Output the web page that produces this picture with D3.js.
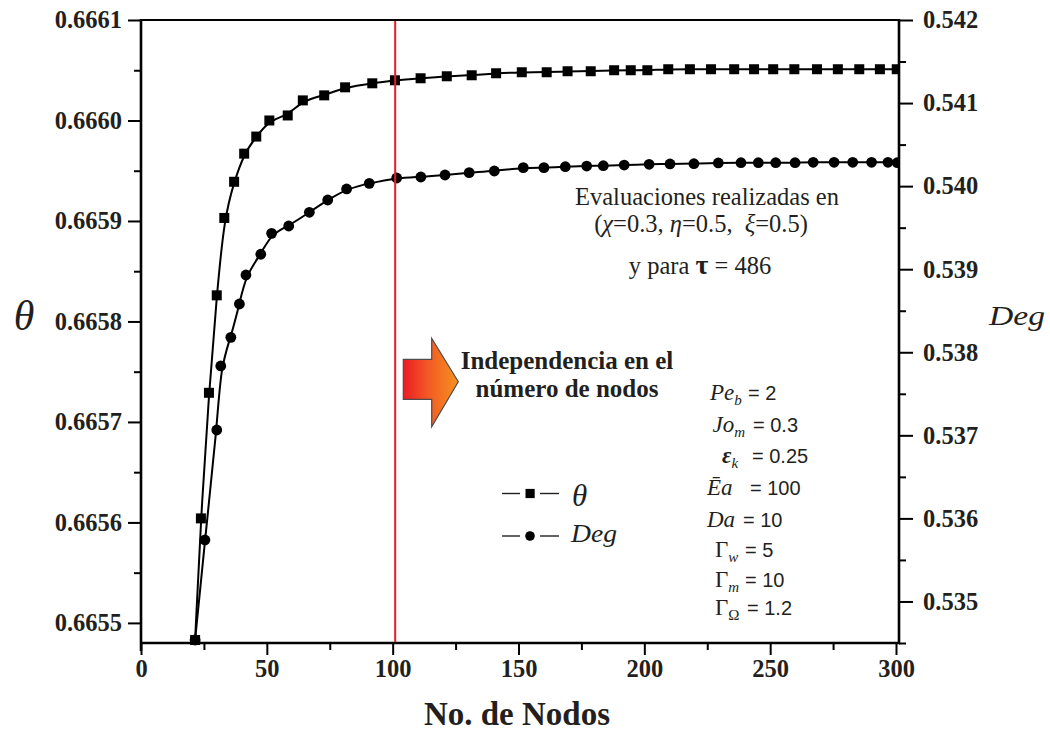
<!DOCTYPE html>
<html><head><meta charset="utf-8">
<script src="https://cdn.jsdelivr.net/npm/d3@7"></script>
<style>body{margin:0;background:#fff}</style>
</head><body><svg id="chart" width="1050" height="733"></svg>
<script>
// ---------------- data ----------------
const nodesTheta = [21.5, 23.8, 27.0, 30.1, 33.1, 37.0, 41.0, 45.8, 51.0, 58.3, 64.3, 72.8, 81.1, 91.9, 100.9, 111.1, 121.5, 131.4, 141.1, 151.3, 161.2, 169.5, 178.7, 188.0, 194.6, 201.2, 209.5, 218.1, 226.5, 235.7, 243.6, 251.2, 259.6, 268.6, 276.9, 285.4, 293.6, 300.3];
const thetaValues = [0.665483, 0.665604, 0.665729, 0.665826, 0.665903, 0.665939, 0.665967, 0.665984, 0.666000, 0.666005,
  0.666020, 0.666025, 0.666033, 0.666037, 0.666040, 0.666042, 0.666044, 0.666045, 0.666047, 0.666048,
  0.666048, 0.666049, 0.666049, 0.666050, 0.666050, 0.666050, 0.666051, 0.666051, 0.666051, 0.666051,
  0.666051, 0.666051, 0.666051, 0.666051, 0.666051, 0.666051, 0.666051, 0.666051];
const nodesDeg = [21.5, 25.4, 30.1, 31.7, 35.7, 39.1, 41.7, 47.6, 51.9, 58.7, 66.9, 74.2, 81.7, 90.7, 101.6, 111.2, 120.8, 130.4, 140.4, 151.9, 160.1, 168.6, 177.1, 183.7, 192.0, 201.9, 210.2, 219.7, 229.4, 238.4, 245.3, 252.2, 259.9, 267.1, 275.4, 282.8, 290.3, 296.8, 300.5];
const degValues = [0.534536, 0.535740, 0.537064, 0.537835, 0.538180, 0.538581, 0.538930, 0.539180, 0.539432, 0.539520,
  0.539685, 0.539833, 0.539966, 0.540034, 0.540098, 0.540110, 0.540134, 0.540162, 0.540182, 0.540222,
  0.540222, 0.540234, 0.540242, 0.540246, 0.540254, 0.540263, 0.540267, 0.540270, 0.540279, 0.540282,
  0.540282, 0.540282, 0.540282, 0.540287, 0.540287, 0.540287, 0.540287, 0.540287, 0.540282];
const xTicks = [0, 50, 100, 150, 200, 250, 300];
const xMinorTicks = [25, 75, 125, 175, 225, 275];
const thetaTicks = [0.6655, 0.6656, 0.6657, 0.6658, 0.6659, 0.6660, 0.6661];
const thetaMinorTicks = [0.66555, 0.66565, 0.66575, 0.66585, 0.66595, 0.66605];
const degTicks = [0.535, 0.536, 0.537, 0.538, 0.539, 0.540, 0.541, 0.542];
const degMinorTicks = [0.5345, 0.5355, 0.5365, 0.5375, 0.5385, 0.5395, 0.5405, 0.5415];
const redLineNodes = 101;
const xTitle = "No. de Nodos";
const seriesNames = ["θ", "Deg"];

// ---------------- layout ----------------
const L = 141, R = 899, T = 20, B = 643;
const serif = "'Liberation Serif','Times New Roman',serif";
const sans = "'Liberation Sans',Arial,sans-serif";
const ink = "#231f20";

const svg = d3.select("#chart");
const x = d3.scaleLinear().domain([0, 300]).range([L, 896]);
const yL = d3.scaleLinear().domain([0.66548, 0.6661]).range([B, T]);
const yR = d3.scaleLinear().domain([0.5345, 0.542]).range([B, T]);

const defs = svg.append("defs");
defs.append("clipPath").attr("id", "clip").append("rect")
  .attr("x", L).attr("y", 0).attr("width", R - L).attr("height", 733);
const grad = defs.append("linearGradient").attr("id", "arrowGrad")
  .attr("x1", "0%").attr("y1", "0%").attr("x2", "100%").attr("y2", "0%");
grad.append("stop").attr("offset", "0%").attr("stop-color", "#ec1c24");
grad.append("stop").attr("offset", "45%").attr("stop-color", "#f15a24");
grad.append("stop").attr("offset", "100%").attr("stop-color", "#f7931e");

function styleAxis(g, size) {
  g.select(".domain").remove();
  g.selectAll(".tick line").attr("stroke", "#000").attr("stroke-width", 2);
  g.selectAll(".tick text").attr("font-family", serif).attr("font-weight", "bold")
    .attr("font-size", size).attr("fill", ink);
}

// left axis
svg.append("g").attr("transform", `translate(${L},0)`)
  .call(d3.axisLeft(yL).tickValues(thetaTicks).tickSize(13).tickPadding(6).tickFormat(d3.format(".4f")))
  .call(g => styleAxis(g, 24.5));
svg.append("g").attr("transform", `translate(${L},0)`)
  .call(d3.axisLeft(yL).tickValues(thetaMinorTicks).tickSize(7).tickFormat(""))
  .call(g => styleAxis(g, 24.5));
// right axis
svg.append("g").attr("transform", `translate(${R},0)`)
  .call(d3.axisRight(yR).tickValues(degTicks).tickSize(14).tickPadding(10).tickFormat(d3.format(".3f")))
  .call(g => styleAxis(g, 24.5));
svg.append("g").attr("transform", `translate(${R},0)`)
  .call(d3.axisRight(yR).tickValues(degMinorTicks).tickSize(7).tickFormat(""))
  .call(g => styleAxis(g, 24.5));
// bottom axis
svg.append("g").attr("transform", `translate(0,${B})`)
  .call(d3.axisBottom(x).tickValues(xTicks).tickSize(12).tickPadding(5).tickFormat(d3.format("d")))
  .call(g => styleAxis(g, 24.5));
svg.append("g").attr("transform", `translate(0,${B})`)
  .call(d3.axisBottom(x).tickValues(xMinorTicks).tickSize(7).tickFormat(""))
  .call(g => styleAxis(g, 24.5));

// frame
svg.append("line").attr("x1", L).attr("x2", R).attr("y1", T).attr("y2", T)
  .attr("stroke", "#000").attr("stroke-width", 1.8);
svg.append("line").attr("x1", L).attr("x2", L).attr("y1", T - 1).attr("y2", B + 8)
  .attr("stroke", "#000").attr("stroke-width", 2.6);
svg.append("line").attr("x1", R).attr("x2", R).attr("y1", T - 1).attr("y2", B + 1)
  .attr("stroke", "#000").attr("stroke-width", 2.6);
svg.append("line").attr("x1", L - 1).attr("x2", R + 1).attr("y1", B).attr("y2", B)
  .attr("stroke", "#000").attr("stroke-width", 2.6);

// series
const thetaData = nodesTheta.map((n, i) => [n, thetaValues[i]]);
const degData = nodesDeg.map((n, i) => [n, degValues[i]]);
const plot = svg.append("g").attr("clip-path", "url(#clip)");
plot.append("path").datum(thetaData)
  .attr("d", d3.line().x(d => x(d[0])).y(d => yL(d[1])).curve(d3.curveBasis))
  .attr("fill", "none").attr("stroke", "#000").attr("stroke-width", 2);
plot.append("path").datum(degData)
  .attr("d", d3.line().x(d => x(d[0])).y(d => yR(d[1])).curve(d3.curveBasis))
  .attr("fill", "none").attr("stroke", "#000").attr("stroke-width", 2);
plot.selectAll("rect.sq").data(thetaData).join("rect").attr("class", "sq")
  .attr("x", d => x(d[0]) - 5).attr("y", d => yL(d[1]) - 5)
  .attr("width", 10).attr("height", 10).attr("fill", "#000");
plot.selectAll("circle.ci").data(degData).join("circle").attr("class", "ci")
  .attr("cx", d => x(d[0])).attr("cy", d => yR(d[1])).attr("r", 5.4).attr("fill", "#000");

// red reference line
svg.append("line").attr("x1", x(redLineNodes)).attr("x2", x(redLineNodes))
  .attr("y1", T + 1).attr("y2", B - 1).attr("stroke", "#ec1c24").attr("stroke-width", 2);

// axis titles
svg.append("text").attr("x", 517).attr("y", 725).attr("text-anchor", "middle")
  .attr("font-family", serif).attr("font-weight", "bold").attr("font-size", 33).attr("fill", ink)
  .text(xTitle);
svg.append("text").attr("x", 24).attr("y", 330).attr("text-anchor", "middle")
  .attr("font-family", serif).attr("font-style", "italic").attr("font-size", 42).attr("fill", ink)
  .text(seriesNames[0]);
svg.append("text").attr("x", 989).attr("y", 325)
  .attr("font-family", serif).attr("font-style", "italic").attr("font-size", 28).attr("fill", ink)
  .attr("textLength", 56).attr("lengthAdjust", "spacingAndGlyphs")
  .text(seriesNames[1]);

// annotation block
const ann = svg.append("g").attr("font-family", serif).attr("fill", ink).attr("font-size", 24.5)
  .attr("text-anchor", "middle");
ann.append("text").attr("x", 707).attr("y", 205).text("Evaluaciones realizadas en");
const l2 = ann.append("text").attr("x", 701).attr("y", 232).style("white-space", "pre");
l2.append("tspan").text("(");
l2.append("tspan").attr("font-style", "italic").text("χ");
l2.append("tspan").text("=0.3, ");
l2.append("tspan").attr("font-style", "italic").text("η");
l2.append("tspan").text("=0.5,  ");
l2.append("tspan").attr("font-style", "italic").text("ξ");
l2.append("tspan").text("=0.5)");
const l3 = ann.append("text").attr("x", 700).attr("y", 274).style("white-space", "pre");
l3.append("tspan").text("y para ");
l3.append("tspan").attr("font-weight", "bold").attr("font-size", 28).text("τ");
l3.append("tspan").text(" = 486");

// arrow
const arrowPts = [[403.3, 359.3], [431.7, 359.3], [431.7, 338.3], [458.3, 381.7], [431.7, 426.7], [431.7, 399.3], [403.3, 399.3]];
svg.append("path").attr("d", d3.line()(arrowPts) + "Z")
  .attr("fill", "url(#arrowGrad)").attr("stroke", "#4d4d4d").attr("stroke-width", 1.2);
const at = svg.append("g").attr("font-family", serif).attr("font-weight", "bold").attr("font-size", 25)
  .attr("fill", ink).attr("text-anchor", "middle");
at.append("text").attr("x", 567).attr("y", 369).text("Independencia en el");
at.append("text").attr("x", 567).attr("y", 397).text("número de nodos");

// legend
const legend = svg.append("g");
const legRows = [{ y: 493.5, name: seriesNames[0], shape: "sq" }, { y: 536, name: seriesNames[1], shape: "ci" }];
legRows.forEach(r => {
  legend.append("line").attr("x1", 502).attr("x2", 520).attr("y1", r.y).attr("y2", r.y).attr("stroke", "#222").attr("stroke-width", 1.4);
  legend.append("line").attr("x1", 540).attr("x2", 559).attr("y1", r.y).attr("y2", r.y).attr("stroke", "#222").attr("stroke-width", 1.4);
  if (r.shape === "sq") legend.append("rect").attr("x", 525.5).attr("y", r.y - 4.6).attr("width", 9.2).attr("height", 9.2).attr("fill", "#000");
  else legend.append("circle").attr("cx", 530).attr("cy", r.y).attr("r", 4.8).attr("fill", "#000");
});
legend.append("text").attr("x", 572).attr("y", 506).attr("font-family", serif).attr("font-style", "italic")
  .attr("font-size", 31).attr("fill", ink).text(seriesNames[0]);
legend.append("text").attr("x", 571).attr("y", 542).attr("font-family", serif).attr("font-style", "italic")
  .attr("font-size", 25).attr("fill", ink).attr("textLength", 46).attr("lengthAdjust", "spacingAndGlyphs")
  .text(seriesNames[1]);

// parameter block
const params = [
  { y: 400, lx: 710, ex: 748, main: "Pe", sub: "b", it: true, val: "= 2" },
  { y: 431.7, lx: 712.5, ex: 753, main: "Jo", sub: "m", it: true, val: "= 0.3" },
  { y: 462.7, lx: 722, ex: 752, main: "ε", sub: "k", it: true, val: "= 0.25" },
  { y: 495, lx: 707, ex: 750, main: "Ēa", sub: "", it: true, val: "= 100" },
  { y: 526.7, lx: 707, ex: 743, main: "Da", sub: "", it: true, val: "= 10" },
  { y: 556.7, lx: 715, ex: 745, main: "Γ", sub: "w", it: false, val: "= 5" },
  { y: 586.7, lx: 715, ex: 745, main: "Γ", sub: "m", it: false, val: "= 10" },
  { y: 615, lx: 715, ex: 747, main: "Γ", sub: "Ω", it: false, val: "= 1.2" }
];
const pg = svg.append("g").attr("fill", ink);
params.forEach(p => {
  const t = pg.append("text").attr("x", p.lx).attr("y", p.y).attr("font-family", serif).attr("font-size", 23);
  t.append("tspan").attr("font-style", p.it ? "italic" : "normal")
    .attr("font-weight", p.main === "ε" ? "bold" : "normal").text(p.main);
  if (p.sub) t.append("tspan").attr("font-size", 15).attr("dy", 5)
    .attr("font-style", p.sub === "Ω" ? "normal" : "italic").text(p.sub);
  pg.append("text").attr("x", p.ex).attr("y", p.y).attr("font-family", sans).attr("font-size", 20)
    .style("white-space", "pre").text(p.val);
});
</script>
</body></html>
